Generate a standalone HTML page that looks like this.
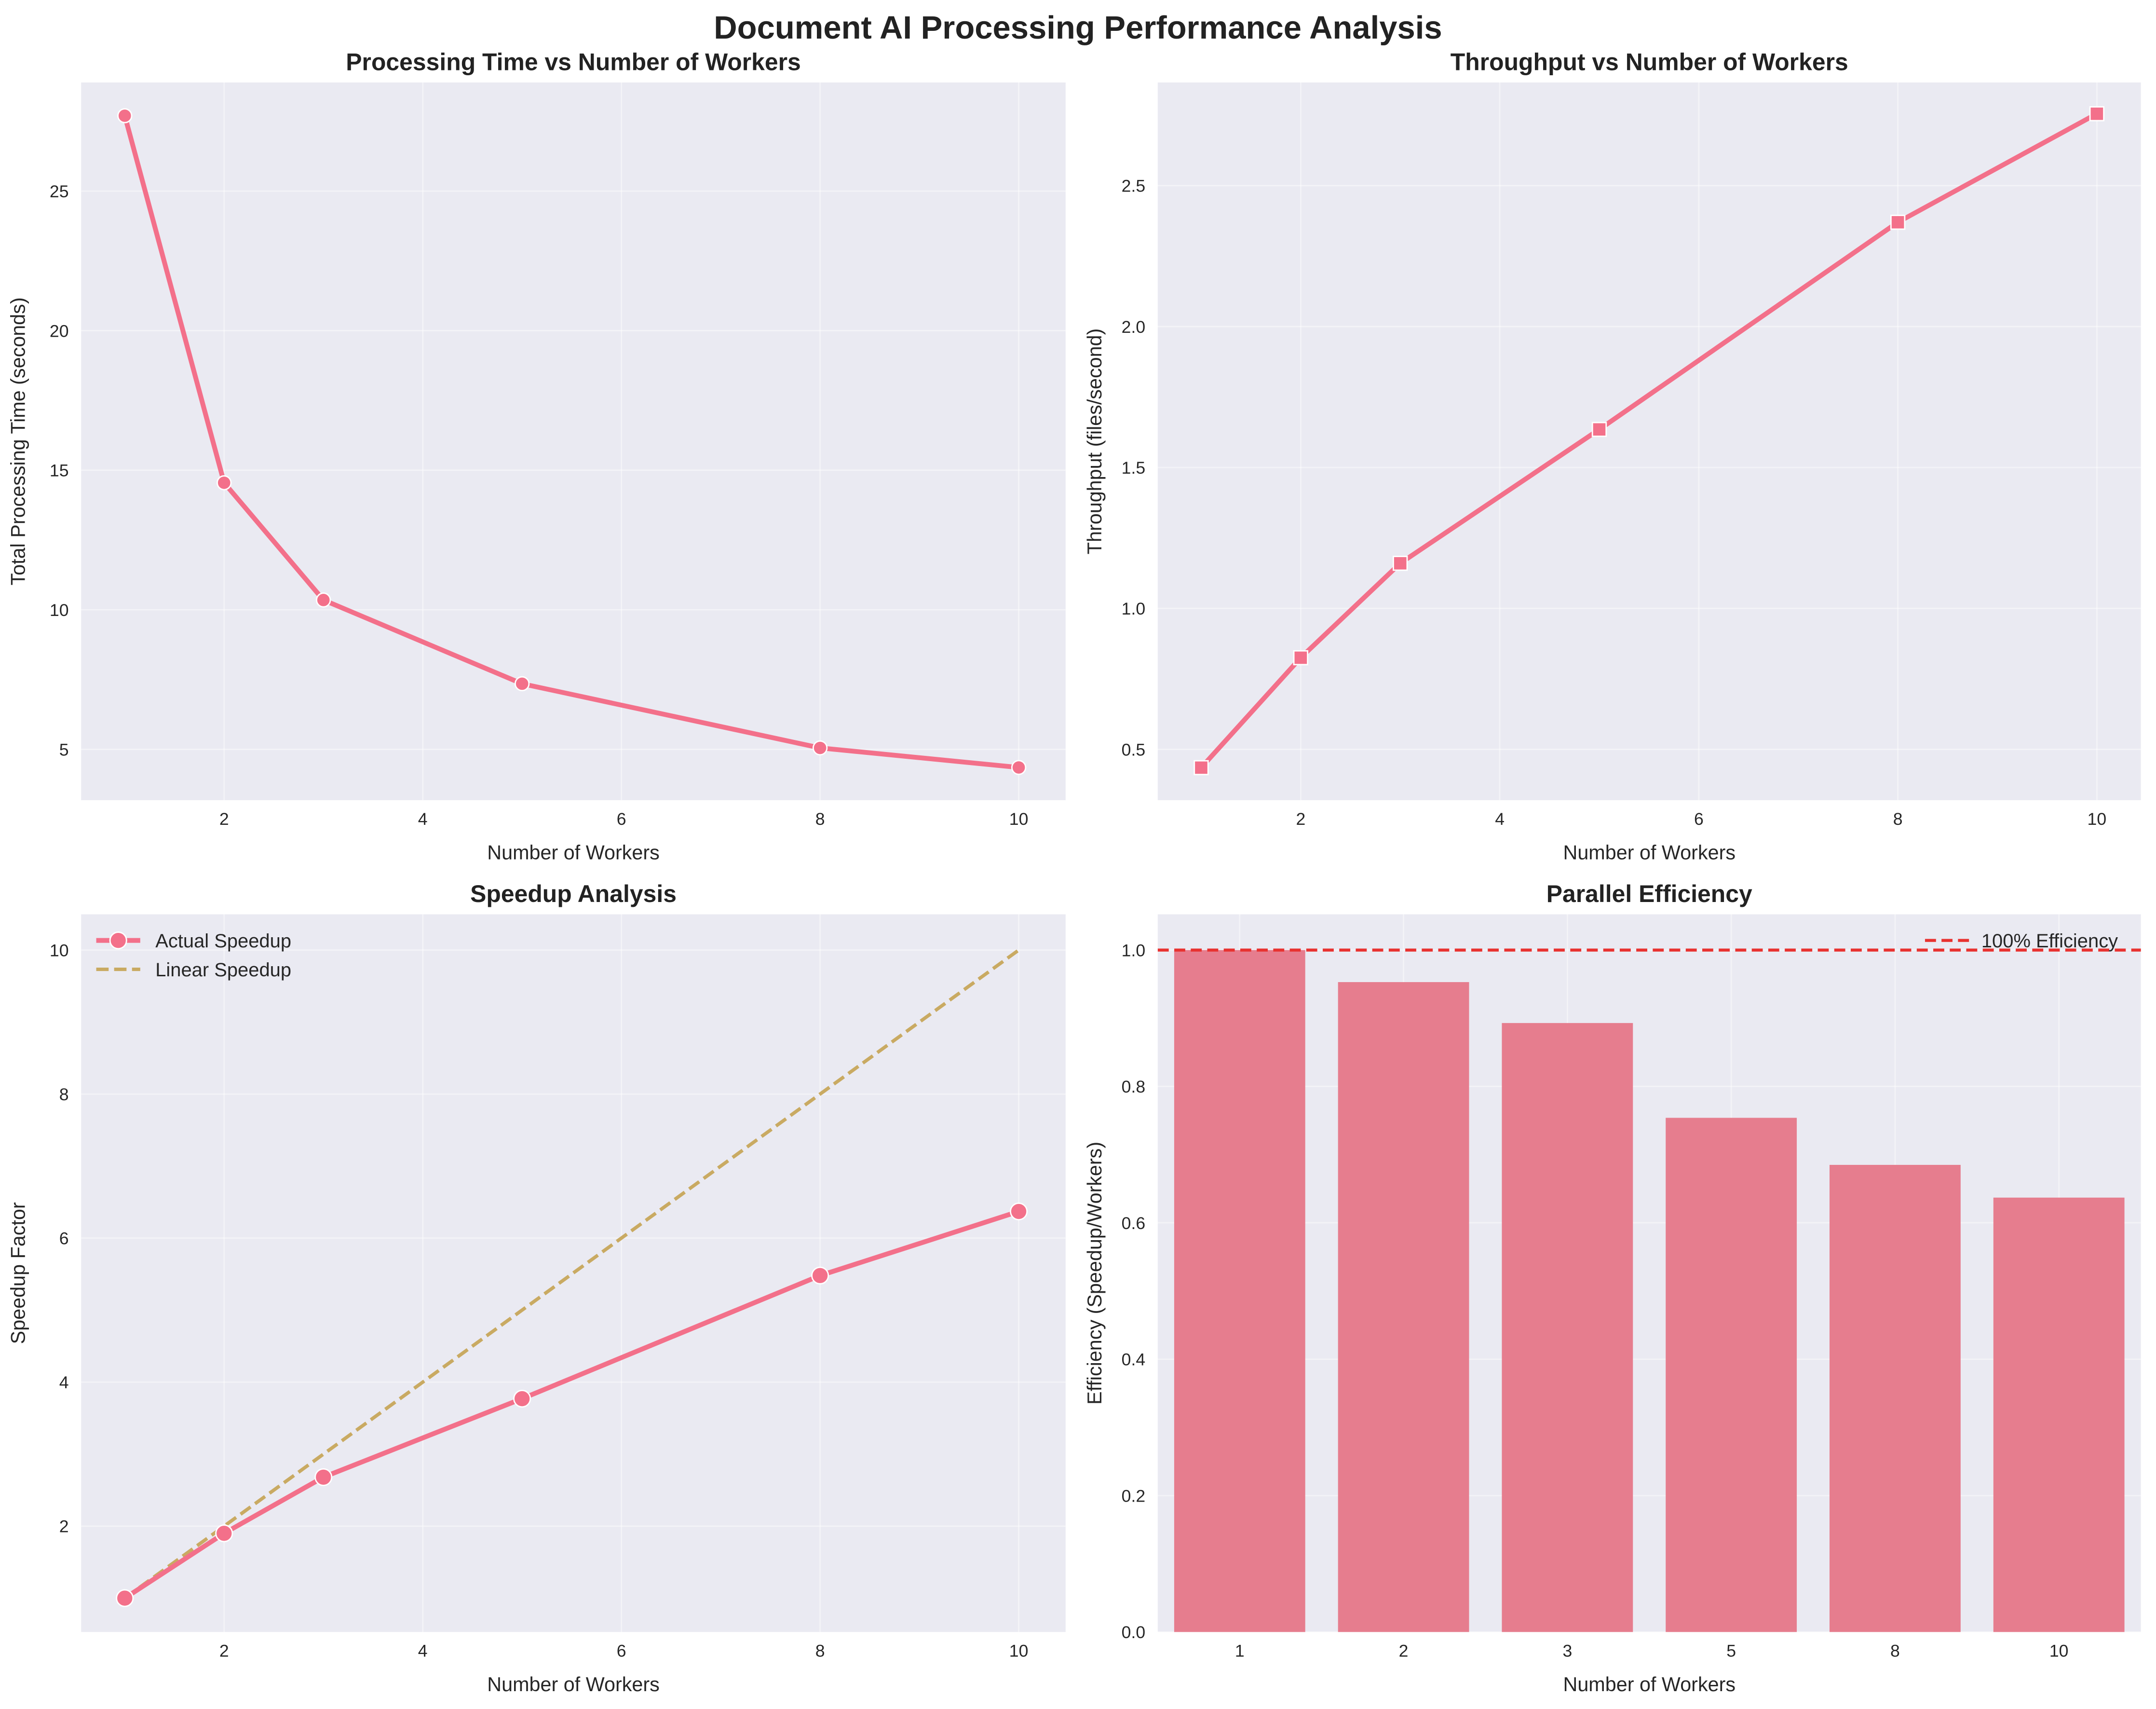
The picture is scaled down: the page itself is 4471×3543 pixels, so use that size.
<!DOCTYPE html>
<html><head><meta charset="utf-8">
<style>
html,body{margin:0;padding:0;background:#fff;}
svg{display:block;font-family:"Liberation Sans",sans-serif;}
</style></head>
<body>
<svg id="fig" width="4471" height="3543" viewBox="0 0 1568 1243" preserveAspectRatio="none" xmlns="http://www.w3.org/2000/svg">
<rect width="1568" height="1243" fill="#ffffff"/>
<text x="784" y="28" text-anchor="middle" font-size="23.5" font-weight="bold" fill="#222">Document AI Processing Performance Analysis</text>
</svg>
<script>
const workers = [1, 2, 3, 5, 8, 10];
const procTime = [27.7, 14.55, 10.35, 7.35, 5.05, 4.35];
const throughput = [0.435, 0.825, 1.16, 1.635, 2.37, 2.755];
const speedup = [1.0, 1.9, 2.68, 3.77, 5.48, 6.37];
const linearSpeedup = [1, 2, 3, 5, 8, 10];
const efficiency = [1.0, 0.953, 0.893, 0.754, 0.685, 0.637];
const xTicksNum = [2, 4, 6, 8, 10];
const yTicksTime = [5, 10, 15, 20, 25];
const yTicksThr = [0.5, 1.0, 1.5, 2.0, 2.5];
const yTicksSpd = [2, 4, 6, 8, 10];
const yTicksEff = [0.0, 0.2, 0.4, 0.6, 0.8, 1.0];

const NS = "http://www.w3.org/2000/svg";
const svg = document.getElementById('fig');
const LINE = "#f3708a";
function mk(tag, attrs, parent) {
  const e = document.createElementNS(NS, tag);
  for (const k in attrs) e.setAttribute(k, attrs[k]);
  (parent || svg).appendChild(e);
  return e;
}
function txt(s, attrs, parent) { const t = mk('text', attrs, parent); t.textContent = s; return t; }
function lin(d0, d1, r0, r1) { return v => r0 + (v - d0) * (r1 - r0) / (d1 - d0); }

function axes(name, x0, y0, x1, y1, sx, sy, xt, yt, xfmt, yfmt, title, xlabel, ylabel) {
  const g = mk('g', {});
  
  
  mk('rect', {x: x0, y: y0, width: x1 - x0, height: y1 - y0, fill: '#eaeaf2'}, g);
  xt.forEach(v => {
    const l = mk('line', {x1: sx(v), x2: sx(v), y1: y0, y2: y1, stroke: '#fff', 'stroke-width': 1, opacity: 0.45}, g);
    
    
    const t = txt(xfmt(v), {x: sx(v), y: y1 + 18, 'text-anchor': 'middle', 'font-size': 12.5, fill: '#262626'}, g);
    
    
  });
  yt.forEach(v => {
    const l = mk('line', {x1: x0, x2: x1, y1: sy(v), y2: sy(v), stroke: '#fff', 'stroke-width': 1, opacity: 0.45}, g);
    
    
    const t = txt(yfmt(v), {x: x0 - 9, y: sy(v) + 4.5, 'text-anchor': 'end', 'font-size': 12.5, fill: '#262626'}, g);
    
    
  });
  const tt = txt(title, {x: (x0 + x1) / 2, y: y0 - 9, 'text-anchor': 'middle', 'font-size': 17.5, 'font-weight': 'bold', fill: '#222'}, g);
  
  
  const xl = txt(xlabel, {x: (x0 + x1) / 2, y: y1 + 43, 'text-anchor': 'middle', 'font-size': 14.5, fill: '#262626'}, g);
  
  
  const cy = (y0 + y1) / 2, lx = x0 - 41;
  const yl = txt(ylabel, {x: lx, y: cy, 'text-anchor': 'middle', 'font-size': 14.5, fill: '#262626', transform: `rotate(-90 ${lx} ${cy})`}, g);
  
  
  return g;
}
const f0 = v => String(v);
const f1 = v => v.toFixed(1);

function series(g, xs, ys, sx, sy, marker, name, size) {
  const pts = xs.map((x, i) => sx(x) + ',' + sy(ys[i])).join(' ');
  const pl = mk('polyline', {points: pts, fill: 'none', stroke: LINE, 'stroke-width': 3.5, 'stroke-linejoin': 'round'}, g);
  
  
  xs.forEach((x, i) => {
    let m;
    if (marker === 'square') m = mk('rect', {x: sx(x) - size, y: sy(ys[i]) - size, width: 2 * size, height: 2 * size, fill: LINE, stroke: '#fff', 'stroke-width': 1}, g);
    else m = mk('circle', {cx: sx(x), cy: sy(ys[i]), r: size, fill: LINE, stroke: '#fff', 'stroke-width': 1}, g);
    
    
  });
}

// Panel 1
{
  const sx = lin(1, 10, 90.75, 740.9), sy = lin(5, 25, 545, 139);
  const g = axes('processing-time-chart', 59, 60, 775, 582, sx, sy, xTicksNum, yTicksTime, f0, f0,
    'Processing Time vs Number of Workers', 'Number of Workers', 'Total Processing Time (seconds)');
  series(g, workers, procTime, sx, sy, 'circle', 'processing-time', 5);
}
// Panel 2
{
  const sx = lin(1, 10, 873.6, 1525), sy = lin(0.5, 2.5, 545, 135);
  const g = axes('throughput-chart', 842, 60, 1557, 582, sx, sy, xTicksNum, yTicksThr, f0, f1,
    'Throughput vs Number of Workers', 'Number of Workers', 'Throughput (files/second)');
  series(g, workers, throughput, sx, sy, 'square', 'throughput', 5);
}
// Panel 3
{
  const sx = lin(1, 10, 90.75, 740.9), sy = lin(2, 10, 1110, 691);
  const g = axes('speedup-chart', 59, 665, 775, 1187, sx, sy, xTicksNum, yTicksSpd, f0, f0,
    'Speedup Analysis', 'Number of Workers', 'Speedup Factor');
  const pts = workers.map((x, i) => sx(x) + ',' + sy(linearSpeedup[i])).join(' ');
  const ll = mk('polyline', {points: pts, fill: 'none', stroke: '#c9aa62', 'stroke-width': 2.5, 'stroke-dasharray': '9,4'}, g);
  
  
  series(g, workers, speedup, sx, sy, 'circle', 'actual-speedup', 6);
  const lg = mk('g', {}, g);
  
  
  mk('line', {x1: 70, x2: 102, y1: 684, y2: 684, stroke: LINE, 'stroke-width': 3.5}, lg);
  mk('circle', {cx: 86, cy: 684, r: 6, fill: LINE, stroke: '#fff', 'stroke-width': 1}, lg);
  txt('Actual Speedup', {x: 113, y: 689, 'font-size': 14, fill: '#262626'}, lg);
  mk('line', {x1: 70, x2: 102, y1: 705, y2: 705, stroke: '#c9aa62', 'stroke-width': 2.5, 'stroke-dasharray': '9,4'}, lg);
  txt('Linear Speedup', {x: 113, y: 710, 'font-size': 14, fill: '#262626'}, lg);
}
// Panel 4
{
  const bx = lin(0, 5, 901.6, 1497.4), sy = lin(0, 1, 1187, 691);
  const cats = workers.map((w, i) => i);
  const g = axes('efficiency-chart', 842, 665, 1557, 1187, bx, sy, cats, yTicksEff, i => String(workers[i]), f1,
    'Parallel Efficiency', 'Number of Workers', 'Efficiency (Speedup/Workers)');
  const bw = 0.8 * (bx(1) - bx(0));
  efficiency.forEach((v, i) => {
    const b = mk('rect', {x: bx(i) - bw / 2, y: sy(v), width: bw, height: sy(0) - sy(v), fill: '#e67d8e'}, g);
    
    
  });
  const rl = mk('line', {x1: 842, x2: 1557, y1: sy(1), y2: sy(1), stroke: '#e8312f', 'stroke-width': 2.2, 'stroke-dasharray': '8,4'}, g);
  
  
  const lg = mk('g', {}, g);
  
  
  mk('line', {x1: 1400, x2: 1432, y1: 684, y2: 684, stroke: '#e8312f', 'stroke-width': 2.2, 'stroke-dasharray': '8,4'}, lg);
  txt('100% Efficiency', {x: 1441, y: 689, 'font-size': 14, fill: '#262626'}, lg);
}
</script>
</body></html>
